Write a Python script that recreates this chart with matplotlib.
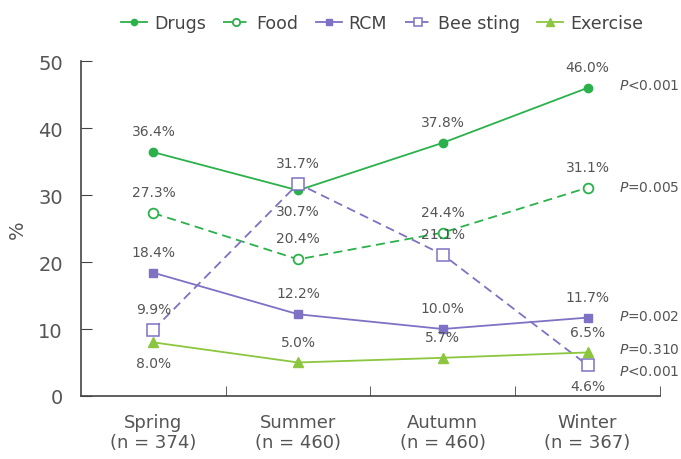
import numpy as np
import matplotlib.pyplot as plt

# categories and values (%)
seasons = ['Spring\n(n = 374)', 'Summer\n(n = 460)', 'Autumn\n(n = 460)', 'Winter\n(n = 367)']
drugs = [36.4, 30.7, 37.8, 46.0]
food = [27.3, 20.4, 24.4, 31.1]
rcm = [18.4, 12.2, 10.0, 11.7]
bee = [9.9, 31.7, 21.1, 4.6]
exercise = [8.0, 5.0, 5.7, 6.5]

p_labels = ['<0.001', '=0.005', '=0.002', '=0.310', '<0.001']
p_pos = [46.4, 31.2, 11.9, 7.0, 3.7]

# label above (1) or below (-1) the point
drugs_side = [1, -1, 1, 1]
food_side = [1, 1, 1, 1]
rcm_side = [1, 1, 1, 1]
bee_side = [1, 1, 1, -1]
ex_side = [-1, 1, 1, 1]

plt.rcParams['font.family'] = ['DejaVu Sans']

green = '#2bb14b'
purple = '#7d72c4'
lgreen = '#8cc63f'
gray = '#555555'

fig = plt.figure(figsize=(6.81, 4.60), dpi=100)
ax = fig.add_axes([0.119, 0.137, 0.850, 0.728])

x = np.arange(len(seasons))
ax.plot(x, drugs, color=green, lw=1.3, marker='o', ms=6, label='Drugs')
ax.plot(x, food, color=green, lw=1.3, ls=(0, (5, 3)), marker='o', ms=7,
        mfc='white', mew=1.3, label='Food')
ax.plot(x, rcm, color=purple, lw=1.3, marker='s', ms=6, label='RCM')
ax.plot(x, bee, color=purple, lw=1.3, ls=(0, (5, 3)), marker='s', ms=8,
        mfc='white', mew=1.1, label='Bee sting')
ax.plot(x, exercise, color=lgreen, lw=1.3, marker='^', ms=7, label='Exercise')

for vals, sides in [(drugs, drugs_side), (food, food_side), (rcm, rcm_side),
                    (bee, bee_side), (exercise, ex_side)]:
    for xi, v, s in zip(x, vals, sides):
        ax.annotate('%.1f%%' % v, (xi, v), xytext=(0, 10 * s), textcoords='offset points',
                    ha='center', va='bottom' if s > 0 else 'top', fontsize=10, color=gray)

for lab, y in zip(p_labels, p_pos):
    ax.text(3.22, y, r'$P$' + lab, fontsize=10, color=gray, va='center', ha='left',
            clip_on=False)

ax.set_xlim(-0.5, 3.5)
ax.set_ylim(0, 50)
ax.set_yticks([0, 10, 20, 30, 40, 50])
ax.set_xticks(x)
ax.set_xticklabels(seasons, fontsize=13, color=gray)
ax.set_xticks([0.5, 1.5, 2.5, 3.5], minor=True)
ax.tick_params(axis='x', which='major', length=0, pad=12)
ax.tick_params(axis='x', which='minor', direction='in', length=7, color='#444444')
ax.tick_params(axis='y', direction='in', length=8, labelsize=14, labelcolor=gray,
               color='#444444', pad=13)
ax.set_ylabel('%', fontsize=14, color=gray, labelpad=8)

for sp in ['top', 'right']:
    ax.spines[sp].set_visible(False)
for sp in ['left', 'bottom']:
    ax.spines[sp].set_color('#444444')
    ax.spines[sp].set_linewidth(1.2)

ax.legend(loc='center', bbox_to_anchor=(0.52, 1.115), ncol=5, frameon=False,
          fontsize=12.5, handlelength=1.5, columnspacing=1.0, handletextpad=0.4,
          markerscale=0.75, labelcolor='#444444')

fig.savefig('out.png', dpi=100)
